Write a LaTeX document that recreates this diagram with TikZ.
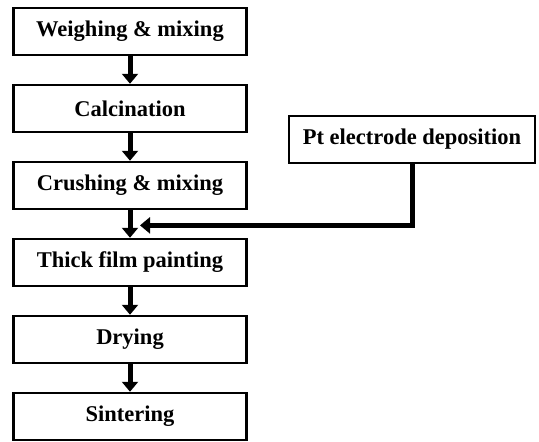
\documentclass[tikz,border=0pt]{standalone}
\usepackage{fontspec}
\setmainfont{Liberation Serif}
\usetikzlibrary{positioning, calc, arrows.meta}
\tikzstyle{process} = [rectangle, 
minimum width=233pt, 
minimum height=47pt, 
draw=black, 
line width=2.5pt, 
fill=white,
font=\fontsize{22.5}{26}\selectfont\bfseries]
\tikzstyle{arrow} = [line width=5pt,-{Triangle[width=16pt,length=10pt]}]

\begin{document}
\begin{tikzpicture}[node distance=27.5pt]
    \useasboundingbox (0,0) rectangle (539pt,-442pt);
    \node (weigh) [process] at (130pt,-31.5pt) {Weighing \& mixing};
    \node (calc) [process, below=of weigh] {Calcination};
    \node (crush) [process, below=of calc] {Crushing \& mixing};
    \node (film) [process, below=of crush] {Thick film painting};
    \node (dry) [process, below=of film] {Drying};
    \node (sinter) [process, below=of dry] {Sintering};

    \node (pt) [process, right=40pt of calc, yshift=-31pt, minimum width=246pt] {Pt electrode deposition};
    \coordinate (join) at ($(crush.south)!0.55!(film.north)$);

    \draw [arrow] (weigh) -- (calc);
    \draw [arrow] (calc) -- (crush);
    \draw [arrow] (crush) -- (film);
    \draw [arrow] (film) -- (dry);
    \draw [arrow] (dry) -- (sinter);
    \draw [arrow] (pt.south) |- ([xshift=10pt]join);
\end{tikzpicture}
\end{document}
